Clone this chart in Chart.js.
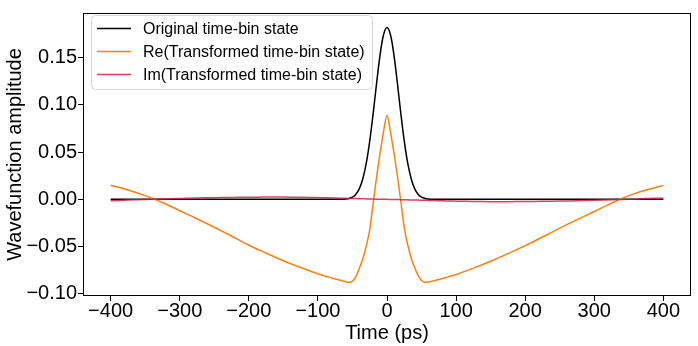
<!DOCTYPE html>
<html>
<head>
<meta charset="utf-8">
<script src="https://cdn.jsdelivr.net/npm/chart.js@4.4.1/dist/chart.umd.min.js"></script>
<style>
  html, body { margin: 0; padding: 0; background: #ffffff; }
  #wrap { width: 698px; height: 346px; }
</style>
</head>
<body>
<div id="wrap"><canvas id="c" width="698" height="346"></canvas></div>
<script>
// ---- data ----
const timePs = [-400,-375,-350,-325,-300,-275,-250,-225,-200,-175,-150,-125,-100,
  -95,-90,-85,-80,-75,-70,-65,-60,-55,-50,-45,-40,-35,-30,-25,-20,-15,-10,-5,0,
  5,10,15,20,25,30,35,40,45,50,55,60,65,70,75,80,85,90,95,
  100,125,150,175,200,225,250,275,300,325,350,375,400];

const originalState = [0,0,0,0,0,0,0,0,0,0,0,0,0,
  0,0,0,0,0,0,0.0001,0.0004,0.0010,0.0024,0.0055,0.0114,0.0219,0.0383,0.0617,0.0911,0.1233,0.1530,0.1743,0.1820,
  0.1743,0.1530,0.1233,0.0911,0.0617,0.0383,0.0219,0.0114,0.0055,0.0024,0.0010,0.0004,0.0001,0,0,0,0,0,0,
  0,0,0,0,0,0,0,0,0,0,0,0,0];

const reTransformed = [0.0150,0.0100,0.0040,-0.0033,-0.0120,-0.0205,-0.0295,-0.0388,-0.0486,-0.0568,-0.0650,-0.0721,-0.0788,
  -0.0800,-0.0811,-0.0822,-0.0832,-0.0842,-0.0852,-0.0862,-0.0872,-0.0879,-0.0866,-0.0818,-0.0730,-0.0628,-0.0495,-0.0320,-0.0040,0.0240,0.0490,0.0715,0.0888,
  0.0715,0.0495,0.0250,-0.0020,-0.0300,-0.0480,-0.0620,-0.0722,-0.0805,-0.0858,-0.0878,-0.0874,-0.0866,-0.0858,-0.0848,-0.0838,-0.0828,-0.0817,-0.0806,
  -0.0795,-0.0728,-0.0655,-0.0575,-0.0490,-0.0398,-0.0305,-0.0215,-0.0128,-0.0040,0.0040,0.0100,0.0148];

const imTransformed = [-0.0014,-0.0008,-0.0002,0.0004,0.0009,0.0014,0.0018,0.0021,0.0023,0.0024,0.0024,0.0022,0.0019,
  0.0018,0.0017,0.0016,0.0015,0.0014,0.0013,0.0012,0.0011,0.0010,0.0009,0.0008,0.0007,0.0006,0.0005,0.0004,0.0003,0.0002,0.0001,0.0001,0.0000,
  -0.0001,-0.0001,-0.0002,-0.0003,-0.0004,-0.0005,-0.0006,-0.0007,-0.0008,-0.0009,-0.0010,-0.0011,-0.0012,-0.0013,-0.0014,-0.0015,-0.0016,-0.0017,-0.0018,
  -0.0019,-0.0022,-0.0024,-0.0024,-0.0023,-0.0021,-0.0018,-0.0014,-0.0009,-0.0004,0.0002,0.0008,0.0013];

const seriesLabels = ['Original time-bin state', 'Re(Transformed time-bin state)', 'Im(Transformed time-bin state)'];
const xTicks = [-400,-300,-200,-100,0,100,200,300,400];
const yTicks = [-0.10,-0.05,0.00,0.05,0.10,0.15];
const xTitle = 'Time (ps)';
const yTitle = 'Wavefunction amplitude';

// ---- helpers ----
const FONT = "'Liberation Sans', Arial, sans-serif";
const toXY = arr => timePs.map((t, i) => ({ x: t, y: arr[i] }));
const minus = s => s.replace('-', '\u2212');

const framePlugin = {
  id: 'frame',
  afterDatasetsDraw(chart) {
    const { ctx, chartArea: a } = chart;
    ctx.save();
    ctx.strokeStyle = '#000';
    ctx.lineWidth = 1;
    ctx.strokeRect(Math.round(a.left) + 0.5, Math.round(a.top) + 0.5,
                   Math.round(a.right - a.left) - 1, Math.round(a.bottom - a.top) - 1);
    ctx.restore();
  }
};

const legendPlugin = {
  id: 'boxLegend',
  afterDraw(chart) {
    const { ctx } = chart;
    const x0 = 91.5, y0 = 15.5, w = 281, h = 74, r = 4;
    ctx.save();
    ctx.beginPath();
    ctx.moveTo(x0 + r, y0);
    ctx.lineTo(x0 + w - r, y0); ctx.arcTo(x0 + w, y0, x0 + w, y0 + r, r);
    ctx.lineTo(x0 + w, y0 + h - r); ctx.arcTo(x0 + w, y0 + h, x0 + w - r, y0 + h, r);
    ctx.lineTo(x0 + r, y0 + h); ctx.arcTo(x0, y0 + h, x0, y0 + h - r, r);
    ctx.lineTo(x0, y0 + r); ctx.arcTo(x0, y0, x0 + r, y0, r);
    ctx.closePath();
    ctx.fillStyle = 'rgba(255,255,255,0.8)';
    ctx.fill();
    ctx.strokeStyle = '#d6d6d6';
    ctx.lineWidth = 1;
    ctx.stroke();
    ctx.font = '16px ' + FONT;
    ctx.textBaseline = 'middle';
    ctx.textAlign = 'left';
    chart.data.datasets.forEach((ds, i) => {
      const yy = 28.5 + 23 * i;
      ctx.beginPath();
      ctx.moveTo(97, yy); ctx.lineTo(131, yy);
      ctx.strokeStyle = ds.borderColor;
      ctx.lineWidth = 1.5;
      ctx.stroke();
      ctx.fillStyle = '#000';
      ctx.fillText(ds.label, 143, yy + 1);
    });
    ctx.restore();
  }
};

new Chart(document.getElementById('c'), {
  type: 'line',
  data: {
    datasets: [
      { label: seriesLabels[0], data: toXY(originalState), borderColor: '#000000', order: 3 },
      { label: seriesLabels[1], data: toXY(reTransformed), borderColor: '#ff7f0e', order: 2 },
      { label: seriesLabels[2], data: toXY(imTransformed), borderColor: 'rgba(214,30,70,0.85)', order: 1 }
    ]
  },
  options: {
    responsive: false,
    animation: false,
    devicePixelRatio: 1,
    layout: { padding: { top: 7, right: 7, left: 0, bottom: 0 } },
    elements: {
      point: { radius: 0 },
      line: { borderWidth: 1.5, tension: 0.35, fill: false }
    },
    plugins: { legend: { display: false }, tooltip: { enabled: false } },
    scales: {
      x: {
        type: 'linear', min: -440, max: 440,
        afterBuildTicks: s => { s.ticks = xTicks.map(v => ({ value: v })); },
        afterFit: s => { s.height = 50; },
        grid: { display: true, drawOnChartArea: false, drawTicks: true, tickLength: 5, tickColor: '#000' },
        border: { display: false },
        ticks: { color: '#000', font: { family: FONT, size: 20 }, padding: -2, maxRotation: 0,
                 callback: v => minus(String(v)) },
        title: { display: true, text: xTitle, color: '#000', font: { family: FONT, size: 20 }, padding: { top: 0, bottom: 1 } }
      },
      y: {
        type: 'linear', min: -0.1023, max: 0.1973,
        afterBuildTicks: s => { s.ticks = yTicks.map(v => ({ value: v })); },
        afterFit: s => { s.width = 83; },
        grid: { display: true, drawOnChartArea: false, drawTicks: true, tickLength: 5, tickColor: '#000' },
        border: { display: false },
        ticks: { color: '#000', font: { family: FONT, size: 20 }, padding: 1,
                 callback: v => minus(Number(v).toFixed(2)) },
        title: { display: true, text: yTitle, color: '#000', font: { family: FONT, size: 20 }, padding: { top: 3, bottom: 0 } }
      }
    }
  },
  plugins: [framePlugin, legendPlugin]
});
</script>
</body>
</html>
